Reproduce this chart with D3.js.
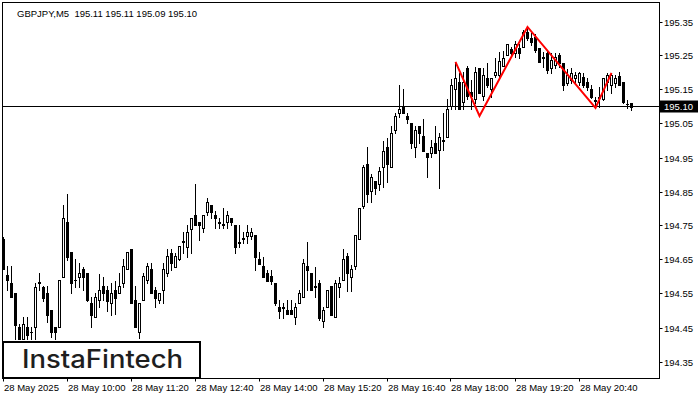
<!DOCTYPE html>
<html><head><meta charset="utf-8">
<script src="https://cdn.jsdelivr.net/npm/d3@7"></script>
<style>body{margin:0;background:#fff}svg{display:block}</style>
</head><body>
<svg id="c" width="700" height="400"></svg>
<script>
const symbol = "GBPJPY,M5";
const lastOHLC = ["195.11","195.11","195.09","195.10"];
const opens = [194.710,194.604,194.581,194.551,194.451,194.416,194.451,194.437,194.451,194.581,
194.569,194.551,194.501,194.451,194.451,194.599,194.760,194.672,194.590,194.599,
194.622,194.610,194.522,194.481,194.531,194.572,194.560,194.522,194.560,194.551,
194.581,194.622,194.681,194.531,194.437,194.531,194.590,194.622,194.560,194.531,
194.560,194.610,194.669,194.628,194.651,194.701,194.687,194.740,194.781,194.760,
194.743,194.790,194.810,194.781,194.760,194.754,194.760,194.772,194.751,194.701,
194.710,194.719,194.719,194.722,194.651,194.631,194.610,194.601,194.581,194.510,
194.510,194.501,194.501,194.481,194.522,194.540,194.631,194.610,194.572,194.581,
194.469,194.510,194.572,194.481,194.569,194.590,194.660,194.599,194.631,194.710,
194.807,194.931,194.851,194.881,194.872,194.922,194.981,194.922,195.031,195.081,
195.099,195.072,195.051,194.981,195.043,195.013,194.963,194.963,194.993,194.972,
195.001,195.010,195.101,195.151,195.172,195.113,195.213,195.143,195.122,195.213,
195.131,195.184,195.151,195.193,195.193,195.219,195.251,195.269,195.257,195.272,
195.275,195.319,195.301,195.304,195.272,195.246,195.257,195.213,195.222,195.251,
195.228,195.169,195.178,195.184,195.172,195.187,195.172,195.151,195.119,195.128,
195.122,195.172,195.163,195.169,195.190,195.172,195.107,195.11];
const highs = [194.716,194.631,194.631,194.551,194.460,194.481,194.481,194.451,194.581,194.610,
194.572,194.572,194.501,194.451,194.590,194.810,194.843,194.672,194.651,194.640,
194.628,194.610,194.540,194.551,194.607,194.599,194.572,194.581,194.587,194.610,
194.651,194.672,194.681,194.572,194.522,194.610,194.640,194.640,194.569,194.551,
194.640,194.681,194.681,194.669,194.690,194.731,194.751,194.772,194.872,194.760,
194.781,194.831,194.810,194.793,194.772,194.801,194.793,194.772,194.751,194.751,
194.731,194.751,194.743,194.722,194.672,194.657,194.619,194.619,194.581,194.531,
194.522,194.531,194.531,194.522,194.560,194.651,194.701,194.610,194.628,194.590,
194.510,194.560,194.572,194.590,194.599,194.681,194.669,194.634,194.722,194.801,
194.928,194.981,194.901,194.881,194.922,194.999,195.007,195.043,195.081,195.163,
195.151,195.081,195.051,195.043,195.043,195.063,194.963,195.001,195.043,195.022,
195.081,195.122,195.181,195.228,195.199,195.201,195.219,195.178,195.216,195.213,
195.213,195.228,195.184,195.243,195.260,195.263,195.284,195.275,195.293,195.284,
195.325,195.334,195.316,195.313,195.272,195.260,195.266,195.257,195.257,195.257,
195.228,195.210,195.213,195.201,195.201,195.199,195.184,195.163,195.128,195.157,
195.184,195.199,195.199,195.193,195.201,195.172,195.119,195.11];
const lows = [194.622,194.560,194.540,194.416,194.416,194.416,194.416,194.416,194.416,194.560,
194.528,194.466,194.422,194.416,194.451,194.599,194.649,194.551,194.569,194.569,
194.560,194.528,194.451,194.481,194.510,194.531,194.499,194.487,194.490,194.551,
194.569,194.622,194.522,194.451,194.419,194.531,194.581,194.551,194.510,194.522,
194.522,194.601,194.619,194.628,194.649,194.669,194.657,194.669,194.751,194.707,
194.731,194.781,194.772,194.743,194.743,194.743,194.743,194.751,194.669,194.687,
194.699,194.699,194.710,194.619,194.637,194.599,194.587,194.578,194.516,194.478,
194.478,194.490,194.490,194.460,194.522,194.540,194.560,194.560,194.540,194.472,
194.451,194.510,194.487,194.481,194.540,194.590,194.557,194.557,194.622,194.710,
194.801,194.819,194.819,194.843,194.854,194.863,194.878,194.922,195.022,195.069,
195.081,195.051,194.978,194.951,194.993,194.969,194.893,194.951,194.963,194.860,
194.972,195.010,195.093,195.093,195.093,195.093,195.122,195.093,195.110,195.140,
195.119,195.157,195.128,195.187,195.187,195.219,195.251,195.249,195.246,195.243,
195.275,195.296,195.281,195.260,195.231,195.216,195.199,195.199,195.213,195.216,
195.149,195.163,195.169,195.172,195.163,195.157,195.149,195.125,195.096,195.099,
195.119,195.149,195.140,195.157,195.163,195.110,195.096,195.09];
const closes = [194.622,194.590,194.540,194.457,194.416,194.460,194.428,194.437,194.569,194.583,
194.537,194.487,194.437,194.437,194.590,194.772,194.657,194.581,194.590,194.610,
194.599,194.531,194.487,194.540,194.560,194.551,194.528,194.551,194.537,194.572,
194.631,194.672,194.522,194.451,194.522,194.601,194.631,194.551,194.537,194.551,
194.622,194.660,194.640,194.660,194.690,194.703,194.731,194.772,194.751,194.751,
194.781,194.819,194.790,194.772,194.758,194.752,194.781,194.760,194.687,194.699,
194.712,194.731,194.731,194.657,194.637,194.599,194.587,194.587,194.522,194.499,
194.508,194.490,194.490,194.510,194.551,194.640,194.619,194.560,194.570,194.478,
194.501,194.560,194.487,194.581,194.581,194.651,194.610,194.622,194.722,194.801,
194.922,194.843,194.893,194.860,194.910,194.969,194.931,195.022,195.072,195.093,
195.081,195.063,194.993,195.031,195.022,194.969,194.951,194.981,194.963,195.010,
194.999,195.093,195.163,195.184,195.093,195.172,195.131,195.131,195.201,195.140,
195.193,195.163,195.184,195.201,195.234,195.243,195.284,195.257,195.284,195.257,
195.319,195.301,195.290,195.266,195.231,195.244,195.207,195.237,195.246,195.228,
195.163,195.193,195.199,195.193,195.199,195.163,195.157,195.128,195.117,195.126,
195.184,195.193,195.193,195.184,195.163,195.113,195.106,195.10];
const xTickBars = [0,16,32,48,64,80,96,112,128,144];
const xTickLabels = ["28 May 2025","28 May 10:00","28 May 11:20","28 May 12:40","28 May 14:00","28 May 15:20","28 May 16:40","28 May 18:00","28 May 19:20","28 May 20:40"];
const yTicks = [194.35,194.45,194.55,194.65,194.75,194.85,194.95,195.05,195.15,195.25,195.35];
const patternBars = [113,119,131,148,152];
const patternPrices = [195.231,195.072,195.334,195.096,195.199];
const lastPrice = 195.10;
const brand = "InstaFintech";

const svg = d3.select("#c");
const FONT = "'Liberation Sans', Arial, sans-serif";
const L = 2.5, R = 659.5, T = 2.5, B = 378.5;
const x = d3.scaleLinear().domain([0, opens.length - 1]).range([3.5, 631.5]);
const y = d3.scaleLinear().domain([194.35, 195.35]).range([361.5, 21.5]);

svg.append("rect").attr("width",700).attr("height",400).attr("fill","#fff");
svg.append("defs").append("clipPath").attr("id","clip")
  .append("rect").attr("x",L).attr("y",T).attr("width",R-L).attr("height",B-T);

const plot = svg.append("g").attr("clip-path","url(#clip)");

// price line
const ly = Math.floor(y(lastPrice)) + 0.5;
plot.append("line").attr("x1",L).attr("x2",R)
  .attr("y1",ly).attr("y2",ly)
  .attr("stroke","#000").attr("stroke-width",1);

const bars = d3.range(opens.length).map(i => ({i, o:opens[i], h:highs[i], l:lows[i], c:closes[i]}));
const g = plot.append("g").attr("shape-rendering","crispEdges");
bars.forEach(d => {
  const cx = x(d.i);
  g.append("line").attr("x1",cx).attr("x2",cx)
    .attr("y1",Math.round(y(d.h))).attr("y2",Math.round(y(d.l))+1)
    .attr("stroke","#000").attr("stroke-width",1);
  const yo = Math.round(y(d.o)), yc = Math.round(y(d.c));
  const top = Math.min(yo,yc), bot = Math.max(yo,yc);
  if (bot - top < 1) {
    g.append("line").attr("x1",cx-1.5).attr("x2",cx+1.5).attr("y1",top+0.5).attr("y2",top+0.5)
      .attr("stroke","#000").attr("stroke-width",1);
  } else if (d.c > d.o) {
    g.append("rect").attr("x",cx-1).attr("y",top+0.5).attr("width",2).attr("height",bot-top)
      .attr("fill","#fff").attr("stroke","#000").attr("stroke-width",1);
  } else {
    g.append("rect").attr("x",cx-1.5).attr("y",top).attr("width",3).attr("height",bot-top+1)
      .attr("fill","#000");
  }
});

// pattern
plot.append("path")
  .attr("d", d3.line().x((d,k)=>x(patternBars[k])).y(d=>y(d))(patternPrices))
  .attr("fill","none").attr("stroke","#ff0000").attr("stroke-width",2).attr("stroke-linejoin","miter");

// frame
svg.append("rect").attr("x",L).attr("y",T).attr("width",R-L).attr("height",B-T)
  .attr("fill","none").attr("stroke","#000").attr("stroke-width",1);

// y axis
const ya = svg.append("g");
yTicks.forEach(v => {
  const yy = Math.round(y(v)) + 0.5;
  ya.append("line").attr("x1",R).attr("x2",R+3).attr("y1",yy).attr("y2",yy).attr("stroke","#000");
  ya.append("text").attr("x",664).attr("y",yy).attr("dy","0.35em")
    .attr("font-family",FONT).attr("font-size",9.5).attr("fill","#000").text(d3.format(".2f")(v));
});
// last price label
svg.append("rect").attr("x",660).attr("y",ly-6).attr("width",38).attr("height",12).attr("fill","#000");
svg.append("text").attr("x",664).attr("y",ly).attr("dy","0.35em")
  .attr("font-family",FONT).attr("font-size",9.5).attr("fill","#fff").text(d3.format(".2f")(lastPrice));

// x axis
const xa = svg.append("g");
xTickBars.forEach((b,k) => {
  const xx = Math.round(x(b)) - 0.5;
  xa.append("line").attr("x1",xx).attr("x2",xx).attr("y1",B).attr("y2",B+3).attr("stroke","#000");
  xa.append("text").attr("x",xx+0.5).attr("y",391)
    .attr("font-family",FONT).attr("font-size",9.5).attr("fill","#000").text(xTickLabels[k]);
});

// title
svg.append("text").attr("x",17).attr("y",17).attr("font-family",FONT).attr("font-size",9.5)
  .attr("fill","#000").attr("xml:space","preserve").text(symbol + "  " + lastOHLC.join(" "));

// brand box
svg.append("rect").attr("x",3).attr("y",342).attr("width",197).attr("height",36)
  .attr("fill","#fff").attr("stroke","#000").attr("stroke-width",2);
svg.append("text").attr("x",22).attr("y",368).attr("font-family","Inter, 'Open Sans', sans-serif")
  .attr("font-size",25).attr("font-weight",500).attr("fill","#1e1e1e")
  .attr("textLength",161).attr("lengthAdjust","spacingAndGlyphs").text(brand);
</script>
</body></html>
